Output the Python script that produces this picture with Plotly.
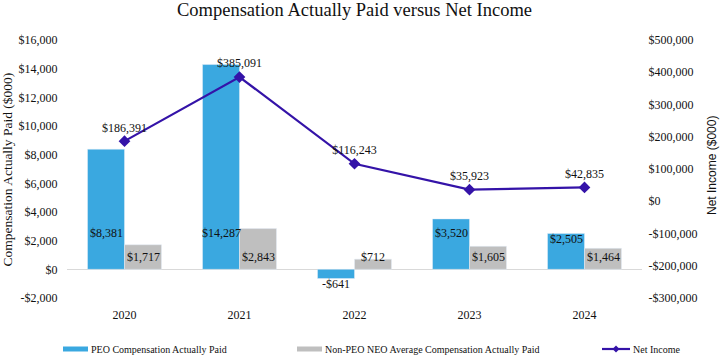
import plotly.graph_objects as go

years = ["2020", "2021", "2022", "2023", "2024"]
peo_cap = [8381, 14287, -641, 3520, 2505]
neo_cap = [1717, 2843, 712, 1605, 1464]
net_income = [186391, 385091, 116243, 35923, 42835]

left_ticks = list(range(-2000, 16001, 2000))
right_ticks = list(range(-300000, 500001, 100000))

def money(v):
    return ("-$" if v < 0 else "$") + f"{abs(v):,}"

FONT = "Liberation Serif, Times New Roman, serif"
SANS = "Liberation Sans, Arial, sans-serif"
BLUE = "#3AA8E0"
GRAY = "#BFBFBF"
LINE = "#3413A8"

fig = go.Figure()
fig.add_trace(go.Bar(x=years, y=peo_cap, name="PEO Compensation Actually Paid",
                     marker_color=BLUE, showlegend=False, offsetgroup="a"))
fig.add_trace(go.Bar(x=years, y=neo_cap, name="Non-PEO NEO Average Compensation Actually Paid",
                     marker_color=GRAY, showlegend=False, offsetgroup="b"))
fig.add_trace(go.Scatter(x=years, y=net_income, yaxis="y2", name="Net Income",
                         mode="lines+markers+text",
                         line=dict(color=LINE, width=2.2),
                         marker=dict(symbol="diamond", size=9, color=LINE),
                         text=[money(v) for v in net_income],
                         textposition="top center",
                         textfont=dict(family=FONT, size=12, color="#111"),
                         cliponaxis=False, showlegend=False))

annotations = []
# category axis: annotation x is the category's serial index
for i, v in enumerate(peo_cap):
    if v >= 0:
        annotations.append(dict(x=i, y=min(v, 2950), xref="x", yref="y", yanchor="top",
                                xshift=-18.5, yshift=3, text=money(v), showarrow=False,
                                font=dict(family=FONT, size=12, color="#111")))
    else:
        annotations.append(dict(x=i, y=v, xref="x", yref="y", yanchor="top",
                                xshift=-18.5, yshift=4, text=money(v), showarrow=False,
                                font=dict(family=FONT, size=12, color="#111")))
for i, v in enumerate(neo_cap):
    annotations.append(dict(x=i, y=860, xref="x", yref="y", yanchor="middle",
                            xshift=18.5, text=money(v), showarrow=False,
                            font=dict(family=FONT, size=12, color="#111")))

# axis titles
annotations.append(dict(x=-0.1035, y=0.5, xref="paper", yref="paper", textangle=-90,
                        xanchor="center", yanchor="middle",
                        text="Compensation Actually Paid ($000)", showarrow=False,
                        font=dict(family=FONT, size=13.5, color="#111")))
annotations.append(dict(x=1.1217, y=0.5155, xref="paper", yref="paper", textangle=-90,
                        xanchor="center", yanchor="middle",
                        text="Net Income ($000)", showarrow=False,
                        font=dict(family=SANS, size=12, color="#111")))

# custom legend
def px_x(p):
    return (p - 67) / 575
def px_y(p):
    return (298 - p) / 258

shapes = []
leg_y = 349
legend_items = [
    (63, 88, "bar", BLUE, "PEO Compensation Actually Paid"),
    (297, 322, "bar", GRAY, "Non-PEO NEO Average Compensation Actually Paid"),
    (602, 630, "line", LINE, "Net Income"),
]
for x0, x1, kind, col, label in legend_items:
    if kind == "bar":
        shapes.append(dict(type="rect", xref="paper", yref="paper",
                           x0=px_x(x0), x1=px_x(x1), y0=px_y(leg_y + 2.5), y1=px_y(leg_y - 2.5),
                           fillcolor=col, line=dict(width=0)))
    else:
        shapes.append(dict(type="line", xref="paper", yref="paper",
                           x0=px_x(x0), x1=px_x(x1), y0=px_y(leg_y), y1=px_y(leg_y),
                           line=dict(color=col, width=2.2)))
        shapes.append(dict(type="path", xref="paper", yref="paper",
                           path=f"M {px_x(616-3.5)} {px_y(leg_y)} L {px_x(616)} {px_y(leg_y-3.5)} "
                                f"L {px_x(616+3.5)} {px_y(leg_y)} L {px_x(616)} {px_y(leg_y+3.5)} Z",
                           fillcolor=col, line=dict(width=0)))
    annotations.append(dict(x=px_x(x1 + 1), y=px_y(leg_y), xref="paper", yref="paper",
                            xanchor="left", yanchor="middle", text=label, showarrow=False,
                            font=dict(family=FONT, size=10, color="#111")))

fig.update_layout(
    width=720, height=355,
    margin=dict(l=67, r=78, t=40, b=57),
    paper_bgcolor="white", plot_bgcolor="white",
    title=dict(text="Compensation Actually Paid versus Net Income", x=0.5, xref="paper",
               y=1 - 10 / 355, yanchor="middle",
               font=dict(family=FONT, size=18.5, color="#111")),
    bargap=0.357, bargroupgap=0,
    xaxis=dict(type="category", range=[-0.5, 4.5], showgrid=False, showline=False,
               ticks="outside", ticklen=6,
               tickcolor="white", tickfont=dict(family=FONT, size=12, color="#111")),
    yaxis=dict(range=[-2000, 16000], tickvals=left_ticks,
               ticktext=[money(v) for v in left_ticks], showgrid=False, showline=False,
               zeroline=True, zerolinecolor="#D9D9D9", zerolinewidth=1,
               ticks="outside", ticklen=6, tickcolor="white",
               tickfont=dict(family=FONT, size=12, color="#111")),
    yaxis2=dict(range=[-300000, 500000], tickvals=right_ticks,
                ticktext=[money(v) for v in right_ticks], overlaying="y", side="right",
                showgrid=False, showline=False, zeroline=False,
                ticks="outside", ticklen=3, tickcolor="white",
                tickfont=dict(family=FONT, size=12, color="#111")),
    annotations=annotations, shapes=shapes,
)

fig.write_html("out.html", config={"displayModeBar": False},
               post_script="document.body.style.margin='0';")
